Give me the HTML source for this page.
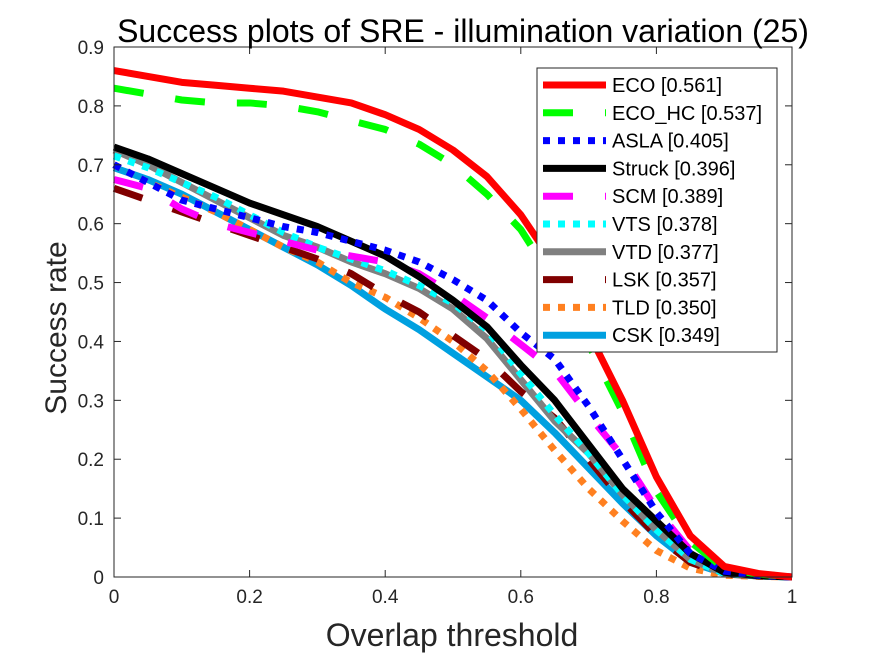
<!DOCTYPE html>
<html><head><meta charset="utf-8"><style>
body{margin:0;background:#fff;width:875px;height:656px;overflow:hidden}
svg{font-family:"Liberation Sans",Arial,sans-serif}
</style></head><body>
<svg id="chart" width="875" height="656">
<rect x="0" y="0" width="875" height="656" fill="#fff"/>
<rect x="114" y="47" width="678" height="530" fill="#fff"/>
<g id="series"></g>
<g id="axes"></g>
<g id="legend"></g>
</svg>
<script>
const xs=[0,0.05,0.1,0.15,0.2,0.25,0.3,0.35,0.4,0.45,0.5,0.55,0.6,0.65,0.7,0.75,0.8,0.85,0.9,0.95,1];
const names=["ECO [0.561]","ECO_HC [0.537]","ASLA [0.405]","Struck [0.396]","SCM [0.389]","VTS [0.378]","VTD [0.377]","LSK [0.357]","TLD [0.350]","CSK [0.349]"];
const eco=[.86,.85,.84,.835,.83,.825,.815,.805,.785,.76,.725,.68,.615,.53,.415,.3,.17,.07,.018,.006,0];
const ecohc=[.83,.82,.81,.805,.805,.8,.79,.775,.76,.735,.7,.65,.59,.5,.395,.28,.145,.06,.014,.005,0];
const asla=[.70,.67,.64,.625,.61,.595,.585,.57,.555,.535,.505,.47,.415,.37,.29,.2,.11,.04,.01,.003,0];
const struck=[.73,.71,.685,.66,.635,.615,.595,.57,.545,.51,.47,.425,.36,.3,.225,.15,.095,.04,.008,.002,0];
const scm=[.675,.66,.625,.60,.585,.57,.555,.545,.535,.515,.48,.44,.395,.35,.275,.205,.115,.045,.01,.003,0];
const vts=[.715,.695,.67,.645,.615,.585,.56,.54,.52,.495,.465,.42,.345,.275,.21,.14,.08,.03,.006,.002,0];
const vtd=[.725,.70,.67,.64,.61,.58,.56,.535,.515,.49,.455,.405,.335,.265,.21,.14,.08,.03,.006,.002,0];
const lsk=[.66,.64,.62,.60,.58,.56,.54,.515,.48,.45,.41,.37,.315,.27,.2,.13,.07,.025,.005,.002,0];
const tld=[.70,.67,.645,.62,.59,.56,.535,.50,.475,.44,.40,.35,.285,.215,.15,.095,.045,.015,.003,.001,0];
const csk=[.695,.675,.65,.62,.59,.56,.53,.495,.455,.42,.38,.34,.3,.245,.185,.125,.07,.025,.006,.002,0];
const xticks=[0,0.2,0.4,0.6,0.8,1];
const yticks=[0,0.1,0.2,0.3,0.4,0.5,0.6,0.7,0.8,0.9];
const NS="http://www.w3.org/2000/svg";
const X=v=>114+v*678, Y=v=>577-v/0.9*530;
const styles=[["#ff0000",""],["#00ff00","30 32"],["#0000ff","7 8"],["#000000",""],["#ff00ff","30 32"],["#00ffff","7 8"],["#808080",""],["#800000","30 32"],["#ff8020","7 8"],["#00a0e0",""]];
const data=[eco,ecohc,asla,struck,scm,vts,vtd,lsk,tld,csk];
function mk(t,a,p){const e=document.createElementNS(NS,t);for(const k in a)e.setAttribute(k,a[k]);p.appendChild(e);return e;}
const gs=document.getElementById('series');
for(let s=data.length-1;s>=0;s--){
 const p=mk('polyline',{points:xs.map((x,i)=>X(x)+','+Y(data[s][i])).join(' '),fill:'none',stroke:styles[s][0],'stroke-width':7,'stroke-dasharray':styles[s][1],'stroke-linejoin':'round'},gs);
 
 
}
const ga=document.getElementById('axes');
mk('rect',{x:114,y:47,width:678,height:530,fill:'none',stroke:'#262626','stroke-width':1},ga);
xticks.forEach(v=>{mk('line',{x1:X(v),y1:577,x2:X(v),y2:570,stroke:'#262626'},ga);
 mk('line',{x1:X(v),y1:47,x2:X(v),y2:54,stroke:'#262626'},ga);
 const t=mk('text',{x:X(v),y:603,'font-size':19,'text-anchor':'middle',fill:'#262626'},ga);t.textContent=String(v);
 
 });
yticks.forEach(v=>{mk('line',{x1:114,y1:Y(v),x2:121,y2:Y(v),stroke:'#262626'},ga);
 mk('line',{x1:792,y1:Y(v),x2:785,y2:Y(v),stroke:'#262626'},ga);
 const t=mk('text',{x:104,y:Y(v)+7,'font-size':19,'text-anchor':'end',fill:'#262626'},ga);t.textContent=String(v);
 
 });
let t=mk('text',{x:463,y:42,'font-size':32,'text-anchor':'middle',fill:'#000'},ga);t.textContent='Success plots of SRE - illumination variation (25)';


t=mk('text',{x:452,y:646,'font-size':32,'text-anchor':'middle',fill:'#262626'},ga);t.textContent='Overlap threshold';


t=mk('text',{x:0,y:0,'font-size':30,'text-anchor':'middle',fill:'#262626',transform:'translate(66,328) rotate(-90)'},ga);t.textContent='Success rate';


const gl=document.getElementById('legend');
const box=mk('rect',{x:537,y:68,width:240,height:284,fill:'#fff',stroke:'#262626','stroke-width':1},gl);


names.forEach((n,i)=>{const y=85+i*27.8;
 const l=mk('line',{x1:543,y1:y,x2:606,y2:y,stroke:styles[i][0],'stroke-width':7,'stroke-dasharray':styles[i][1]},gl);
 
 
 const tx=mk('text',{x:612,y:y+7,'font-size':20,fill:'#000'},gl);tx.textContent=n;
 
 });
</script>
</body></html>
